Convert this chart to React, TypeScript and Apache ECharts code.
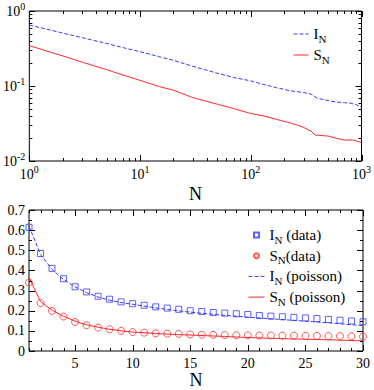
import React, { useEffect, useRef } from "react";
import * as echarts from "echarts";

const SERIF = "Liberation Serif";

// Top panel (log-log)
const topIN = [1, 2, 3, 5, 7, 10, 15, 20, 30, 50, 70, 100, 130, 170, 230, 300, 350, 400, 500, 600, 700, 800, 900, 1000];
const topI = [0.65, 0.508, 0.441, 0.369, 0.325, 0.287, 0.245, 0.22, 0.183, 0.148, 0.13, 0.117, 0.105, 0.095, 0.086, 0.082, 0.078, 0.0685, 0.064, 0.061, 0.06, 0.059, 0.056, 0.052];
const topSN = [1, 2, 3, 5, 7, 10, 15, 20, 30, 50, 70, 100, 130, 170, 230, 290, 350, 380, 500, 600, 700, 850, 1000];
const topS = [0.345, 0.252, 0.208, 0.165, 0.14, 0.119, 0.098, 0.088, 0.07, 0.057, 0.05, 0.043, 0.04, 0.036, 0.032, 0.0287, 0.0251, 0.0222, 0.0215, 0.02, 0.019, 0.019, 0.0176];

// Bottom panel (linear)
const dataN = [1, 2, 3, 4, 5, 6, 7, 8, 9, 10, 11, 12, 13, 14, 15, 16, 17, 18, 19, 20, 21, 22, 23, 24, 25, 26, 27, 28, 29, 30];
const dataI = [0.614, 0.484, 0.41, 0.359, 0.319, 0.293, 0.272, 0.257, 0.244, 0.235, 0.227, 0.219, 0.213, 0.207, 0.2, 0.196, 0.191, 0.188, 0.185, 0.181, 0.176, 0.173, 0.17, 0.167, 0.164, 0.161, 0.157, 0.153, 0.149, 0.145];
const dataS = [0.34, 0.238, 0.199, 0.171, 0.144, 0.128, 0.116, 0.108, 0.1, 0.094, 0.091, 0.088, 0.086, 0.085, 0.082, 0.081, 0.08, 0.079, 0.078, 0.078, 0.077, 0.077, 0.076, 0.076, 0.075, 0.075, 0.074, 0.074, 0.073, 0.072];
const poisN = [1, 2, 3, 4, 5, 6, 7, 8, 9, 10, 12, 14, 16, 18, 20, 22, 24, 26, 28, 30];
const poisI = [0.62, 0.48, 0.405, 0.355, 0.318, 0.29, 0.268, 0.252, 0.24, 0.232, 0.214, 0.199, 0.187, 0.177, 0.168, 0.16, 0.152, 0.144, 0.135, 0.126];
const poisS = [0.366, 0.245, 0.203, 0.172, 0.148, 0.13, 0.118, 0.108, 0.1, 0.094, 0.087, 0.081, 0.077, 0.072, 0.067, 0.063, 0.06, 0.057, 0.054, 0.05];

const botXMajor = [5, 10, 15, 20, 25, 30];

const BLUE = "#3a3aff";
const RED = "#ff2a2a";
const SQUARE = "path://M0 0H10V10H0Z";

const zip = (a: number[], b: number[]) => a.map((v, i) => [v, b[i]]);

function tickSeries(axisIndex: number, data: number[][]) {
  return {
    type: "custom",
    xAxisIndex: axisIndex,
    yAxisIndex: axisIndex,
    silent: true,
    clip: false,
    z: 10,
    encode: { x: 0, y: 1 },
    data,
    renderItem: (params: any, api: any) => {
      const cs = params.coordSys;
      const kind = api.value(2);
      const len = api.value(3);
      const p = api.coord([api.value(0), api.value(1)]);
      const st = { stroke: "#000", lineWidth: 1 };
      if (kind === 0) {
        const x = Math.round(p[0]) + 0.5;
        const yb = cs.y + cs.height;
        return {
          type: "group",
          children: [
            { type: "line", shape: { x1: x, y1: yb, x2: x, y2: yb - len }, style: st },
            { type: "line", shape: { x1: x, y1: cs.y, x2: x, y2: cs.y + len }, style: st },
          ],
        };
      }
      const y = Math.round(p[1]) + 0.5;
      const xr = cs.x + cs.width;
      return {
        type: "group",
        children: [
          { type: "line", shape: { x1: cs.x, y1: y, x2: cs.x + len, y2: y }, style: st },
          { type: "line", shape: { x1: xr, y1: y, x2: xr - len, y2: y }, style: st },
        ],
      };
    },
  };
}

export default function App() {
  const ref = useRef<HTMLDivElement>(null);
  useEffect(() => {
    if (!ref.current) return;
    const chart = echarts.init(ref.current, undefined, { renderer: "svg" });

    // tick marks (axis scaffolding)
    const topTicks: number[][] = [];
    for (const d of [1, 10, 100]) {
      for (let k = 1; k <= 9; k++) {
        topTicks.push([d * k, 0.1, 0, k === 1 ? 6 : 3]);
      }
    }
    topTicks.push([1000, 0.1, 0, 6]);
    for (const d of [0.01, 0.1]) {
      for (let k = 1; k <= 9; k++) {
        topTicks.push([10, d * k, 1, k === 1 ? 6 : 3]);
      }
    }
    topTicks.push([10, 1, 1, 6]);

    const botTicks: number[][] = [];
    for (let n = 1; n <= 30; n++) {
      botTicks.push([n, 0.3, 0, botXMajor.includes(n) ? 6 : 3]);
    }
    for (let i = 0; i <= 14; i++) {
      botTicks.push([10, i * 0.05, 1, i % 2 === 0 ? 6 : 3]);
    }

    const supFmt = (v: number) => {
      const e = Math.round(Math.log10(v));
      return `{b|10}{s|${e}}`;
    };
    const supRich = {
      b: { fontSize: 14, fontFamily: SERIF, color: "#000", lineHeight: 20, verticalAlign: "middle" },
      s: { fontSize: 10, fontFamily: SERIF, color: "#000", lineHeight: 10, verticalAlign: "top" },
    };
    const legRich = {
      m: { fontSize: 15, fontFamily: SERIF, color: "#000", lineHeight: 20, verticalAlign: "middle" },
      s: { fontSize: 11, fontFamily: SERIF, color: "#000", lineHeight: 6, verticalAlign: "bottom" },
    };
    const legFmt = (name: string) => {
      const rest = name.slice(3).replace(/ /g, "\u00a0");
      return rest ? `{m|${name[0]}}{s|N}{m|${rest}}` : `{m|${name[0]}}{s|N}`;
    };
    const noSym = { color: "transparent", borderWidth: 0, opacity: 0 };
    const legText = { fontSize: 15, lineHeight: 20, fontFamily: SERIF, color: "#000", rich: legRich };

    chart.setOption({
      animation: false,
      backgroundColor: "#fff",
      textStyle: { fontFamily: SERIF },
      grid: [
        { left: 29, top: 11, width: 333, height: 150, show: true, borderColor: "#000", borderWidth: 1 },
        { left: 29, top: 210, width: 334, height: 149, show: true, borderColor: "#000", borderWidth: 1 },
      ],
      xAxis: [
        {
          type: "log",
          logBase: 10,
          gridIndex: 0,
          min: 1,
          max: 1000,
          axisLine: { show: false },
          axisTick: { show: false },
          splitLine: { show: false },
          axisLabel: { margin: 3, fontFamily: SERIF, formatter: supFmt, rich: supRich },
          name: "N",
          nameLocation: "middle",
          nameGap: 24,
          nameTextStyle: { fontSize: 18, fontFamily: SERIF, color: "#000" },
        },
        {
          type: "value",
          gridIndex: 1,
          min: 1,
          max: 30,
          interval: 1,
          axisLine: { show: false },
          axisTick: { show: false },
          splitLine: { show: false },
          axisLabel: {
            margin: 5,
            fontSize: 14,
            fontFamily: SERIF,
            color: "#000",
            formatter: (v: number) => (botXMajor.includes(v) ? String(v) : ""),
          },
          name: "N",
          nameLocation: "middle",
          nameGap: 20,
          nameTextStyle: { fontSize: 18, fontFamily: SERIF, color: "#000" },
        },
      ],
      yAxis: [
        {
          type: "log",
          logBase: 10,
          gridIndex: 0,
          min: 0.01,
          max: 1,
          axisLine: { show: false },
          axisTick: { show: false },
          splitLine: { show: false },
          axisLabel: { margin: 4, fontFamily: SERIF, formatter: supFmt, rich: supRich },
        },
        {
          type: "value",
          gridIndex: 1,
          min: 0,
          max: 0.7,
          interval: 0.1,
          axisLine: { show: false },
          axisTick: { show: false },
          splitLine: { show: false },
          axisLabel: {
            margin: 4,
            fontSize: 14,
            fontFamily: SERIF,
            color: "#000",
            formatter: (v: number) => (v === 0 ? "0" : v.toFixed(1)),
          },
        },
      ],
      legend: [
        {
          data: [
            { name: "I_N", itemStyle: noSym },
            { name: "S_N", itemStyle: noSym },
          ],
          orient: "vertical",
          left: 293,
          top: 24,
          itemWidth: 15,
          itemHeight: 5,
          itemGap: 1,
          padding: 0,
          formatter: legFmt,
          textStyle: legText,
          lineStyle: { width: 1 },
        },
        {
          data: [
            { name: "I_N (data)", icon: SQUARE },
            { name: "S_N(data)", icon: "circle" },
            { name: "I_N (poisson)", itemStyle: noSym },
            { name: "S_N (poisson)", itemStyle: noSym },
          ],
          orient: "vertical",
          left: 248,
          top: 225,
          itemWidth: 16,
          itemHeight: 5,
          itemGap: 0.7,
          padding: 0,
          formatter: legFmt,
          textStyle: legText,
          lineStyle: { width: 1 },
        },
      ],
      series: [
        {
          name: "I_N",
          type: "line",
          xAxisIndex: 0,
          yAxisIndex: 0,
          data: zip(topIN, topI),
          symbol: "none",
          lineStyle: { color: BLUE, width: 1, type: [4, 2] },
          itemStyle: { color: BLUE },
        },
        {
          name: "S_N",
          type: "line",
          xAxisIndex: 0,
          yAxisIndex: 0,
          data: zip(topSN, topS),
          symbol: "none",
          lineStyle: { color: RED, width: 1 },
          itemStyle: { color: RED },
        },
        {
          name: "I_N (data)",
          type: "scatter",
          xAxisIndex: 1,
          yAxisIndex: 1,
          data: zip(dataN, dataI),
          symbol: "rect",
          symbolSize: 6,
          itemStyle: { color: "transparent", borderColor: BLUE, borderWidth: 1 },
          z: 3,
        },
        {
          name: "S_N(data)",
          type: "scatter",
          xAxisIndex: 1,
          yAxisIndex: 1,
          data: zip(dataN, dataS),
          symbol: "circle",
          symbolSize: 7,
          itemStyle: { color: "transparent", borderColor: RED, borderWidth: 1 },
          z: 3,
        },
        {
          name: "I_N (poisson)",
          type: "line",
          xAxisIndex: 1,
          yAxisIndex: 1,
          data: zip(poisN, poisI),
          symbol: "none",
          lineStyle: { color: BLUE, width: 1, type: [4, 2] },
          itemStyle: { color: BLUE },
        },
        {
          name: "S_N (poisson)",
          type: "line",
          xAxisIndex: 1,
          yAxisIndex: 1,
          data: zip(poisN, poisS),
          symbol: "none",
          lineStyle: { color: RED, width: 1 },
          itemStyle: { color: RED },
        },
        tickSeries(0, topTicks),
        tickSeries(1, botTicks),
      ],
    });
    return () => chart.dispose();
  }, []);
  return (
    <div
      ref={ref}
      style={{ position: "fixed", left: 0, top: 0, width: 374, height: 390, background: "#fff" }}
    />
  );
}
